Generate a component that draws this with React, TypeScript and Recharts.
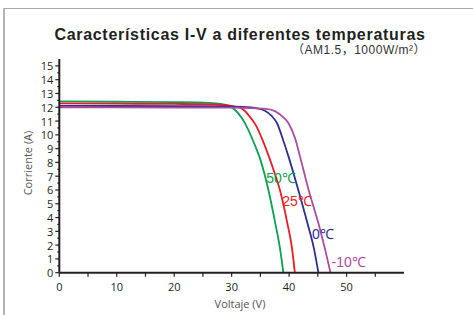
import React from "react";
import {
  LineChart,
  Line,
  XAxis,
  YAxis,
  ReferenceDot,
  Customized,
} from "recharts";

// curvas I-V (V, A)
const curve50 = [
  { v: 0, i: 12.42 }, { v: 10, i: 12.4 }, { v: 20, i: 12.37 }, { v: 26, i: 12.32 },
  { v: 28, i: 12.25 }, { v: 29.5, i: 12.1 }, { v: 30.6, i: 11.8 }, { v: 31.8, i: 11.2 },
  { v: 32.9, i: 10.36 }, { v: 33.8, i: 9.5 }, { v: 35, i: 8.2 }, { v: 36.4, i: 6.0 },
  { v: 37.6, i: 3.58 }, { v: 38.4, i: 1.8 }, { v: 39, i: 0 },
];
const curve25 = [
  { v: 0, i: 12.28 }, { v: 10, i: 12.26 }, { v: 20, i: 12.24 }, { v: 27, i: 12.2 },
  { v: 30, i: 12.1 }, { v: 31.8, i: 11.9 }, { v: 32.9, i: 11.45 }, { v: 34.2, i: 10.7 },
  { v: 35.4, i: 9.6 }, { v: 36.5, i: 8.4 }, { v: 37.5, i: 7.2 }, { v: 38.4, i: 6.0 },
  { v: 39.7, i: 3.58 }, { v: 40.5, i: 1.8 }, { v: 41, i: 0 },
];
const curve0 = [
  { v: 0, i: 12.1 }, { v: 10, i: 12.09 }, { v: 20, i: 12.08 }, { v: 28, i: 12.07 },
  { v: 32, i: 12.02 }, { v: 34, i: 11.95 }, { v: 35.8, i: 11.75 }, { v: 37, i: 11.35 },
  { v: 37.9, i: 10.84 }, { v: 38.9, i: 9.7 }, { v: 39.9, i: 8.42 }, { v: 41.6, i: 6.0 },
  { v: 43.2, i: 3.58 }, { v: 44.3, i: 1.8 }, { v: 45.1, i: 0 },
];
const curveM10 = [
  { v: 0, i: 12.0 }, { v: 10, i: 11.99 }, { v: 20, i: 11.98 }, { v: 30, i: 11.97 },
  { v: 33, i: 11.94 }, { v: 36, i: 11.88 }, { v: 37.6, i: 11.7 }, { v: 38.9, i: 11.3 },
  { v: 39.9, i: 10.84 }, { v: 41, i: 9.8 }, { v: 41.9, i: 8.42 }, { v: 43.4, i: 6.0 },
  { v: 45.1, i: 3.58 }, { v: 46.2, i: 1.8 }, { v: 47.2, i: 0 },
];

const xTicks = [0, 5, 10, 15, 20, 25, 30, 35, 40, 45, 50, 55];
const xLabels = [0, 10, 20, 30, 40, 50];
const yTicks = [
  0, 0.5, 1, 1.5, 2, 2.5, 3, 3.5, 4, 4.5, 5, 5.5, 6, 6.5, 7, 7.5, 8, 8.5,
  9, 9.5, 10, 10.5, 11, 11.5, 12, 12.5, 13, 13.5, 14, 14.5, 15,
];

const series = [
  { name: "50℃", data: curve50, color: "#0aa14f", lx: 36.0, ly: 6.87 },
  { name: "25℃", data: curve25, color: "#ec1c24", lx: 38.8, ly: 5.2 },
  { name: "0℃", data: curve0, color: "#2b3092", lx: 44.0, ly: 2.8 },
  { name: "-10℃", data: curveM10, color: "#ad4c9e", lx: 47.4, ly: 0.78 },
];

const ink = "#231f20";
const tickFont = "'Open Sans', 'DejaVu Sans', sans-serif";

const XTick = (props: any) => {
  const { x, y, payload } = props;
  return (
    <g>
      <line x1={x} x2={x} y1={y} y2={y + 4} stroke={ink} strokeWidth={1.2} />
      {xLabels.includes(payload.value) && (
        <text
          x={x}
          y={y + 14}
          textAnchor="middle"
          dominantBaseline="central"
          fontSize={11}
          fontFamily={tickFont}
          fill={ink}
        >
          {payload.value}
        </text>
      )}
    </g>
  );
};

const YTick = (props: any) => {
  const { x, y, payload } = props;
  const major = Number.isInteger(payload.value);
  return (
    <g>
      <line x1={x - (major ? 4 : 2)} x2={x} y1={y} y2={y} stroke={ink} strokeWidth={1.2} />
      {major && (
        <text
          x={x - 6}
          y={y}
          textAnchor="end"
          dominantBaseline="central"
          fontSize={11}
          fontFamily={tickFont}
          fill={ink}
        >
          {payload.value}
        </text>
      )}
    </g>
  );
};

const Texts = () => (
  <g>
    <text
      x={240}
      y={34}
      textAnchor="middle"
      dominantBaseline="central"
      fontSize={16}
      fontWeight="bold"
      letterSpacing={0.7}
      fontFamily="'Liberation Sans', Arial, sans-serif"
      fill={ink}
    >
      Características I-V a diferentes temperaturas
    </text>
    <text
      x={292}
      y={50}
      dominantBaseline="central"
      fontSize={12}
      letterSpacing={0.5}
      fontFamily="'Liberation Sans', 'Noto Sans CJK SC', sans-serif"
      fill="#333"
    >
      （AM1.5，1000W/m²）
    </text>
    <text
      x={27}
      y={163}
      transform="rotate(-90 27 163)"
      textAnchor="middle"
      dominantBaseline="central"
      fontSize={11}
      fontFamily={tickFont}
      fill="#555"
    >
      Corriente (A)
    </text>
    <text
      x={240}
      y={303}
      textAnchor="middle"
      dominantBaseline="central"
      fontSize={11}
      fontFamily={tickFont}
      fill="#555"
    >
      Voltaje (V)
    </text>
  </g>
);

export default function App() {
  return (
    <div style={{ position: "absolute", left: 0, top: 0, width: 473, height: 315, background: "#fff" }}>
      <div
        style={{
          position: "absolute",
          left: 3,
          top: 8,
          width: 470,
          height: 307,
          borderTop: "1px solid #a8a8a8",
          borderLeft: "2px solid #b4b4b4",
          boxSizing: "border-box",
        }}
      />
      <div style={{ position: "absolute", left: 0, top: 0 }}>
        <LineChart
          width={473}
          height={315}
          margin={{ top: 59, right: 69, bottom: 0, left: 0 }}
        >
          <XAxis
            dataKey="v"
            type="number"
            domain={[0, 60]}
            ticks={xTicks}
            interval={0}
            tickSize={0}
            tickMargin={0}
            tickLine={false}
            tick={<XTick />}
            axisLine={{ stroke: ink, strokeWidth: 2 }}
            height={42.3}
            allowDataOverflow
          />
          <YAxis
            type="number"
            domain={[0, 15.5]}
            ticks={yTicks}
            interval={0}
            tickSize={0}
            tickMargin={0}
            tickLine={false}
            tick={<YTick />}
            axisLine={{ stroke: ink, strokeWidth: 2 }}
            width={59.3}
            allowDataOverflow
          />
          {series.map((s) => (
            <Line
              key={s.name}
              data={s.data}
              dataKey="i"
              type="monotone"
              stroke={s.color}
              strokeWidth={1.8}
              dot={false}
              isAnimationActive={false}
            />
          ))}
          {series.map((s) => (
            <ReferenceDot
              key={"l" + s.name}
              x={s.lx}
              y={s.ly}
              r={0.01}
              fill="none"
              stroke="none"
              label={{
                value: s.name,
                position: "right",
                offset: 0,
                fill: s.color,
                fontSize: 14,
                fontFamily: "'Liberation Sans', Arial, sans-serif",
              }}
            />
          ))}
          <Customized component={<Texts />} />
        </LineChart>
      </div>
    </div>
  );
}
